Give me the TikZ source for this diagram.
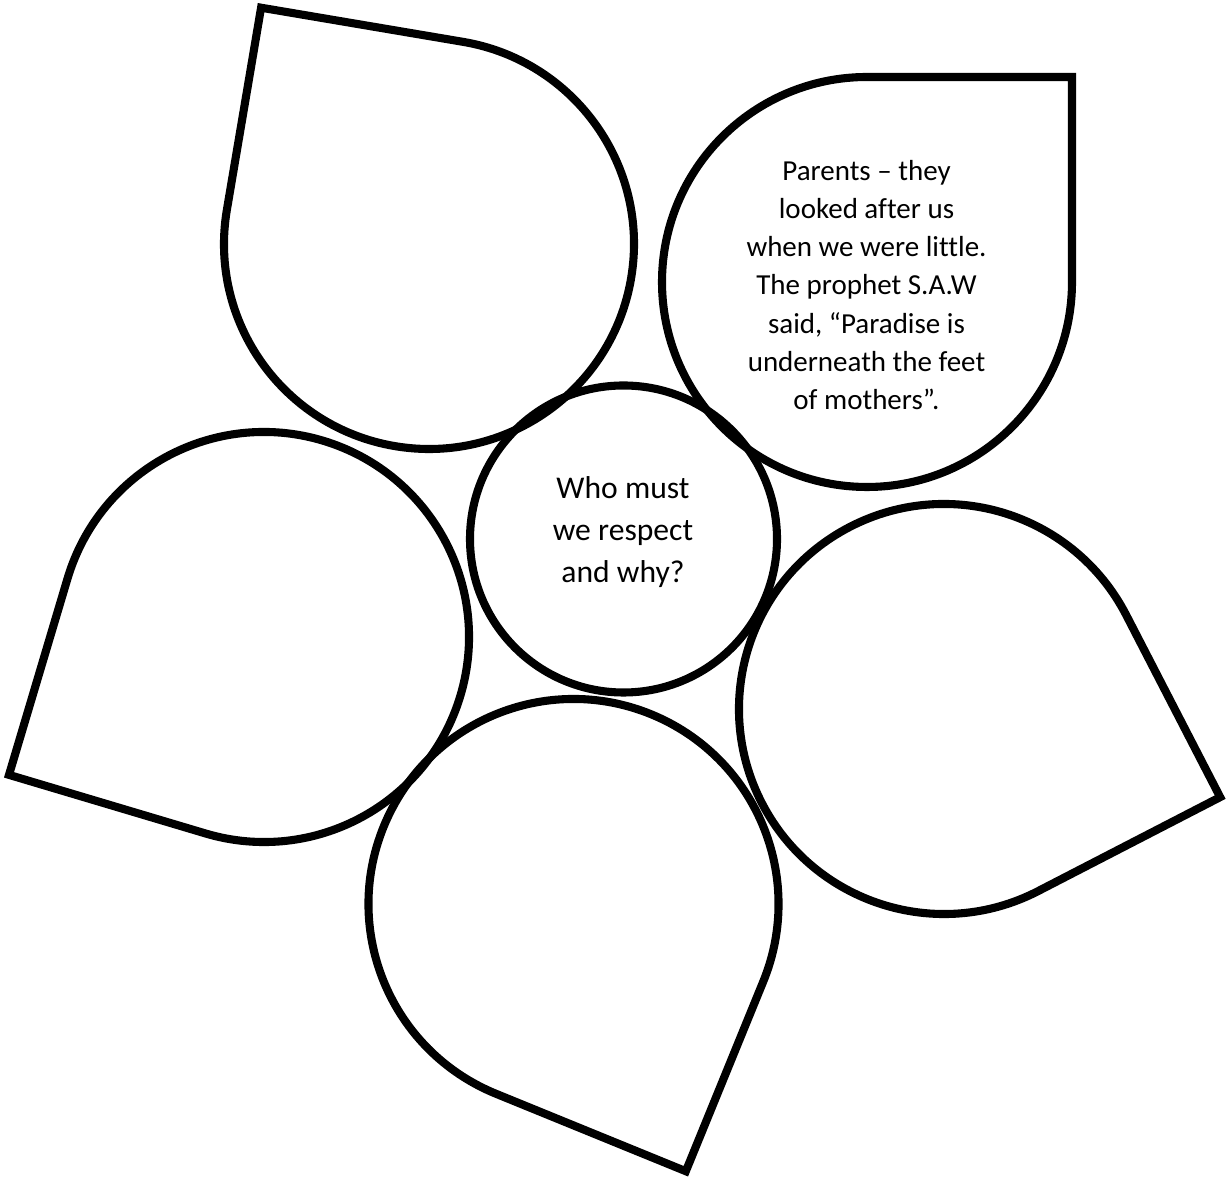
\documentclass[tikz,border=0pt]{standalone}
\usepackage{fontspec}
\setmainfont[Ligatures=NoCommon]{Carlito}
\usetikzlibrary{calc}
\tikzset{
  petalline/.style={draw=black, line width=4.6pt, line join=miter},
  hubline/.style={draw=black, line width=4.6pt},
  petaltxt/.style={align=center, inner sep=0pt, font=\fontsize{16.5}{21.8}\selectfont},
  hubtxt/.style={align=center, inner sep=0pt, font=\fontsize{18}{24.1}\selectfont}
}
\newcommand\flowerpetal[3]{%
  \draw[petalline] (#1,#2) ++(#3+45:205) arc[start angle=#3+45, end angle=#3+315, radius=205]
    -- ($(#1,#2)+(#3:289.9)$) -- cycle;
}
\begin{document}
\begin{tikzpicture}[x=0.02cm, y=0.02cm]
  \useasboundingbox (0,0) rectangle (1228,1180);
  \fill[white] (0,0) rectangle (1228,1180);
  % petals: centre x, centre y, direction of the pointed corner
  \flowerpetal{867}{898}{45}
  \flowerpetal{429}{936}{125.4}
  \flowerpetal{264}{543}{208.4}
  \flowerpetal{573.5}{276}{292.8}
  \flowerpetal{944}{471}{342.3}
  % centre
  \coordinate (hubc) at (623.5,641);
  \draw[hubline] (hubc) circle[radius=153.5];
  \node[hubtxt] (centertext) at (623,648) {Who must\\we respect\\and why?};
  \node[petaltxt] (petaltext) at (866.5,895) {Parents – they\\looked after us\\when we were little.\\The prophet S.A.W\\said, “Paradise is\\underneath the feet\\of mothers”.};
\end{tikzpicture}
\end{document}
